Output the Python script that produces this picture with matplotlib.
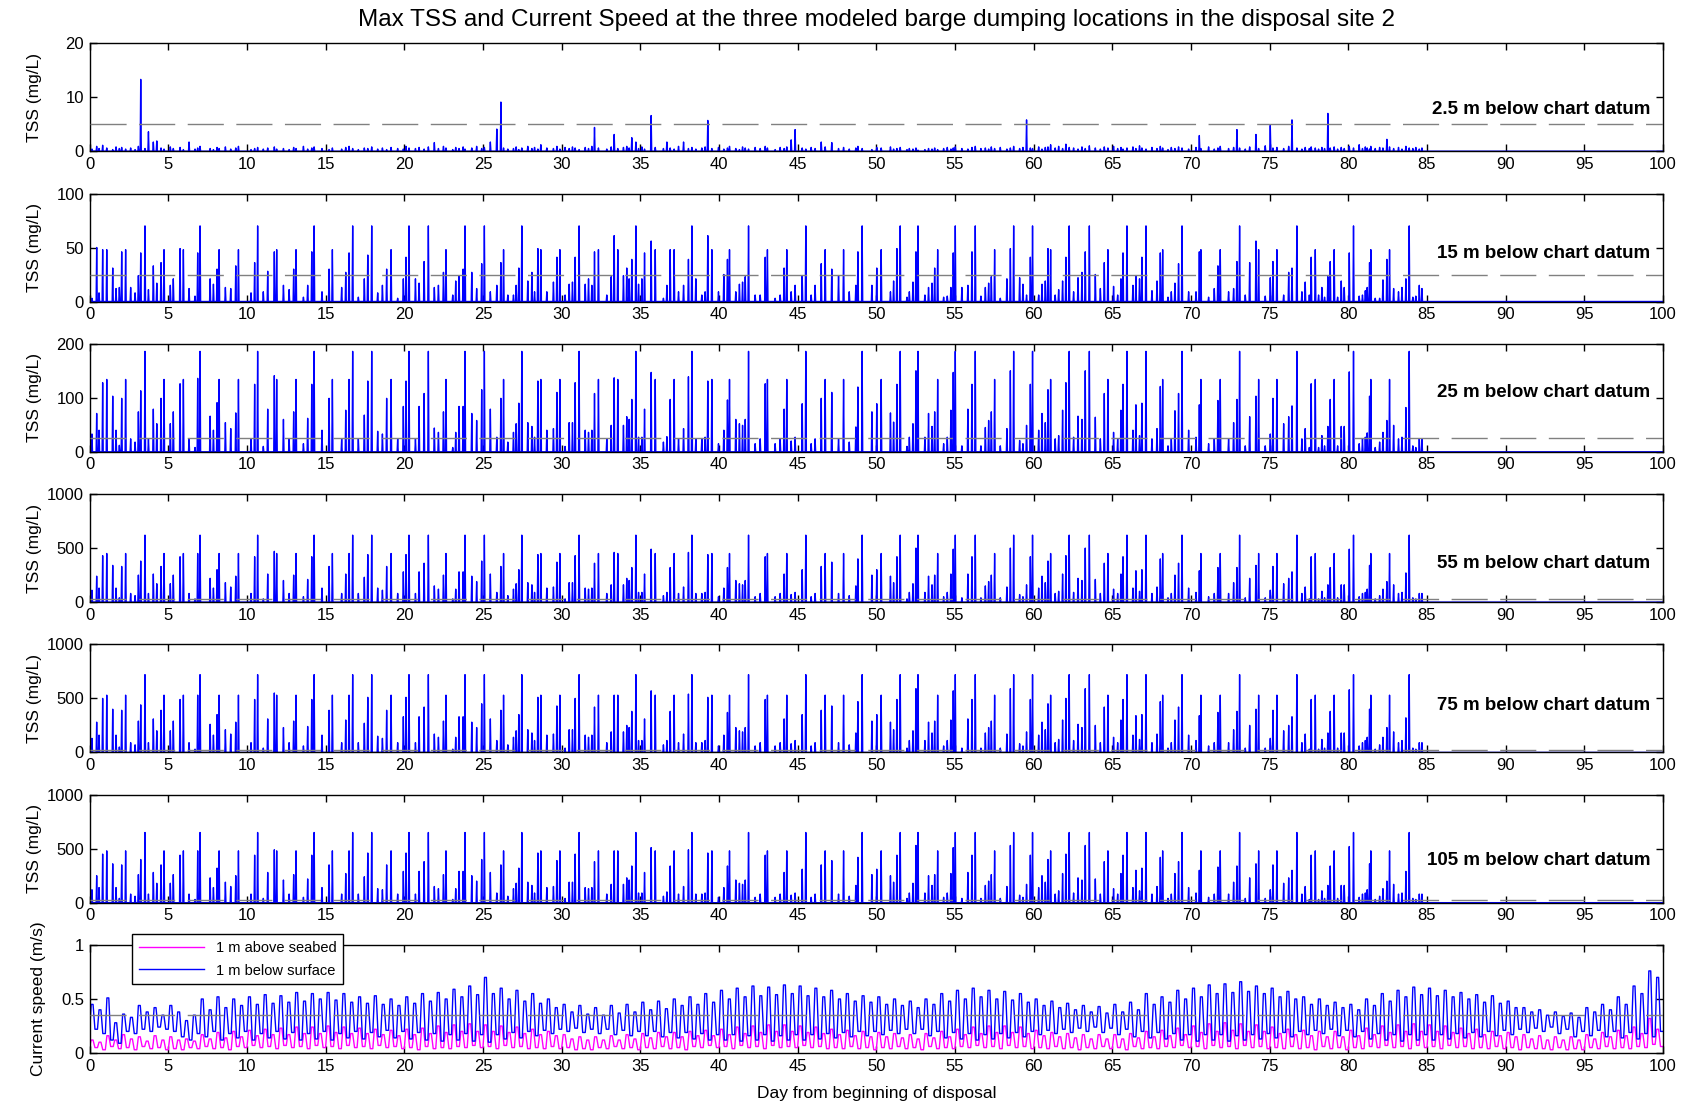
import numpy as np
import matplotlib
matplotlib.use("Agg")
import matplotlib.pyplot as plt

plt.rcParams['font.family'] = ['Liberation Sans', 'DejaVu Sans']

# Times of the modeled barge dumps (days from beginning of disposal)
dump_days = [
    0.15, 0.45, 0.60, 0.83, 1.09, 1.47, 1.68, 1.89, 2.04, 2.29,
    2.61, 2.89, 3.10, 3.25, 3.52, 3.74, 4.05, 4.27, 4.54, 4.73,
    5.13, 5.32, 5.75, 5.96, 6.32, 6.70, 6.87, 7.02, 7.66, 7.87,
    8.10, 8.23, 8.63, 8.97, 9.29, 9.46, 10.26, 10.49, 10.68, 11.04,
    11.32, 11.74, 11.89, 12.32, 12.68, 12.97, 13.12, 13.59, 13.86, 14.12,
    14.27, 14.77, 15.22, 15.43, 16.02, 16.28, 16.49, 16.72, 17.08, 17.46,
    17.68, 17.93, 18.31, 18.61, 18.88, 19.16, 19.58, 19.94, 20.11, 20.30,
    20.71, 20.94, 21.26, 21.53, 21.91, 22.17, 22.49, 22.65, 23.08, 23.27,
    23.48, 23.74, 23.86, 24.29, 24.60, 24.92, 25.09, 25.47, 25.88, 26.14,
    26.31, 26.58, 26.94, 27.11, 27.28, 27.47, 27.85, 28.11, 28.28, 28.49,
    28.68, 29.06, 29.48, 29.70, 29.89, 30.22, 30.48, 30.69, 30.86, 31.11,
    31.50, 31.71, 31.92, 32.09, 32.34, 32.87, 33.15, 33.34, 33.57, 33.93,
    34.14, 34.29, 34.46, 34.72, 34.89, 35.10, 35.27, 35.69, 35.95, 36.47,
    36.69, 36.90, 37.15, 37.43, 37.75, 38.06, 38.28, 38.53, 38.91, 39.12,
    39.29, 39.55, 39.97, 40.31, 40.54, 40.67, 41.07, 41.30, 41.50, 41.67,
    41.88, 42.30, 42.62, 42.94, 43.08, 43.57, 43.89, 44.14, 44.31, 44.59,
    44.84, 45.29, 45.52, 45.86, 46.11, 46.50, 46.75, 47.17, 47.60, 47.92,
    48.28, 48.70, 48.83, 49.10, 49.72, 50.03, 50.31, 50.90, 51.10, 51.31,
    51.52, 51.95, 52.10, 52.33, 52.52, 52.65, 53.09, 53.32, 53.54, 53.71,
    53.90, 54.28, 54.51, 54.74, 54.89, 55.02, 55.44, 55.82, 56.08, 56.29,
    56.65, 56.93, 57.14, 57.31, 57.52, 57.88, 58.30, 58.52, 58.73, 59.11,
    59.32, 59.55, 59.79, 59.93, 60.32, 60.53, 60.74, 60.91, 61.08, 61.37,
    61.59, 61.84, 62.05, 62.26, 62.54, 62.82, 63.07, 63.28, 63.54, 63.92,
    64.24, 64.49, 64.72, 65.08, 65.34, 65.55, 65.68, 65.93, 66.31, 66.50,
    66.73, 66.88, 67.14, 67.52, 67.84, 68.05, 68.20, 68.54, 68.75, 68.98,
    69.21, 69.43, 69.85, 70.32, 70.53, 70.63, 71.12, 71.48, 71.71, 71.86,
    72.39, 72.71, 72.92, 73.09, 73.45, 73.73, 74.13, 74.30, 74.72, 75.04,
    75.21, 75.46, 75.89, 76.21, 76.42, 76.73, 77.05, 77.26, 77.52, 77.64,
    77.90, 78.11, 78.32, 78.49, 78.70, 78.85, 79.10, 79.32, 79.55, 79.74,
    80.06, 80.33, 80.69, 80.90, 81.08, 81.20, 81.35, 81.43, 81.71, 81.99,
    82.20, 82.45, 82.62, 82.88, 83.19, 83.41, 83.66, 83.87, 84.10, 84.29,
    84.51, 84.68,
]

# Max TSS (mg/L) after each dump, 2.5 m below chart datum
tss_2p5 = [
    0.4, 0.9, 0.5, 1.1, 0.6, 0.3, 0.8, 0.5, 0.7, 0.4,
    0.6, 0.3, 0.9, 13.3, 0.5, 3.6, 1.7, 1.9, 0.6, 0.4,
    0.8, 0.5, 0.7, 0.3, 1.7, 0.4, 0.6, 0.9, 0.5, 0.3,
    0.7, 0.5, 0.8, 0.4, 0.6, 0.9, 0.3, 0.5, 0.7, 0.4,
    0.6, 0.8, 0.4, 0.5, 0.3, 0.7, 0.5, 0.9, 0.4, 0.6,
    0.8, 0.5, 0.3, 0.6, 0.4, 0.7, 0.9, 0.5, 0.3, 0.6,
    0.5, 0.8, 0.4, 0.6, 0.3, 0.7, 0.5, 0.4, 0.9, 0.6,
    0.5, 0.7, 0.4, 0.8, 1.6, 0.5, 0.9, 0.6, 0.3, 0.7,
    0.5, 0.8, 0.4, 0.6, 0.9, 0.5, 0.7, 1.7, 4.1, 9.1,
    0.6, 0.4, 0.5, 0.8, 0.3, 0.6, 0.9, 0.5, 0.7, 0.4,
    1.2, 0.6, 0.5, 0.9, 0.4, 0.7, 0.5, 0.8, 0.6, 0.3,
    0.7, 0.5, 0.9, 4.4, 0.6, 0.4, 0.8, 3.1, 0.5, 0.7,
    0.9, 0.6, 2.5, 1.7, 0.5, 0.8, 0.4, 6.6, 0.7, 0.5,
    1.7, 0.6, 0.4, 0.9, 1.7, 0.5, 0.7, 0.4, 0.6, 0.8,
    5.7, 0.5, 0.7, 0.4, 0.6, 0.9, 0.5, 0.3, 0.8, 0.6,
    0.4, 0.7, 0.5, 0.9, 0.6, 0.3, 0.7, 0.5, 0.8, 2.1,
    4.0, 0.6, 0.4, 0.7, 0.5, 1.7, 0.8, 1.6, 0.5, 0.7,
    0.4, 0.6, 0.9, 0.5, 0.3, 0.7, 0.6, 0.8, 0.4, 0.5,
    0.7, 0.3, 0.5, 0.4, 0.6, 0.2, 0.3, 0.5, 0.4, 0.6,
    0.3, 0.5, 0.7, 0.4, 0.6, 0.8, 0.5, 0.4, 0.7, 0.9,
    0.5, 0.6, 0.4, 0.8, 0.5, 0.7, 0.4, 0.6, 0.9, 0.5,
    0.7, 5.8, 0.6, 0.5, 0.8, 0.4, 0.7, 0.8, 1.2, 0.6,
    0.9, 0.5, 1.3, 0.7, 0.6, 0.4, 0.8, 0.5, 1.0, 0.6,
    0.4, 0.8, 0.6, 0.9, 0.5, 0.7, 0.4, 0.6, 0.8, 0.5,
    1.0, 0.6, 0.4, 0.7, 0.5, 0.9, 0.6, 0.3, 0.7, 0.5,
    0.8, 0.6, 0.4, 0.7, 2.9, 0.5, 0.8, 0.4, 0.6, 0.9,
    0.5, 0.7, 4.0, 0.6, 0.4, 0.8, 3.1, 0.5, 1.0, 4.8,
    0.6, 0.7, 0.5, 0.9, 5.8, 0.6, 0.4, 0.7, 0.5, 0.8,
    0.6, 0.4, 0.7, 0.5, 7.0, 0.6, 0.8, 0.4, 0.7, 0.5,
    0.9, 0.6, 1.2, 0.5, 0.8, 0.6, 0.4, 0.9, 0.5, 0.7,
    0.6, 2.2, 0.8, 0.5, 0.7, 0.4, 0.9, 0.6, 0.5, 0.7,
    0.4, 0.6,
]

# Max TSS (mg/L), 15 m below chart datum
tss_15 = [
    3, 50, 8, 48, 48, 31, 12, 13, 46, 48,
    13, 8, 24, 45, 70, 11, 33, 17, 36, 48,
    15, 21, 49, 48, 12, 5, 45, 70, 21, 16,
    30, 48, 13, 12, 33, 48, 8, 36, 70, 9,
    28, 46, 48, 15, 11, 30, 48, 4, 15, 46,
    70, 9, 30, 48, 13, 27, 45, 70, 4, 21,
    43, 70, 8, 15, 30, 48, 3, 21, 41, 70,
    21, 17, 37, 70, 13, 15, 27, 48, 6, 19,
    24, 30, 70, 27, 12, 35, 70, 9, 15, 36,
    48, 6, 6, 15, 31, 70, 19, 27, 9, 49,
    48, 9, 18, 41, 48, 6, 16, 18, 41, 70,
    16, 21, 15, 46, 48, 6, 23, 61, 48, 24,
    31, 21, 39, 70, 16, 21, 45, 56, 48, 3,
    15, 48, 48, 9, 15, 39, 70, 21, 6, 9,
    61, 48, 9, 25, 39, 48, 9, 16, 18, 23,
    70, 6, 6, 41, 48, 3, 6, 31, 48, 9,
    15, 24, 70, 6, 15, 35, 48, 30, 24, 48,
    9, 15, 46, 70, 15, 31, 48, 9, 19, 49,
    70, 4, 9, 18, 46, 70, 6, 13, 17, 31,
    48, 4, 5, 13, 45, 70, 13, 15, 46, 70,
    5, 13, 17, 23, 48, 3, 21, 49, 70, 22,
    16, 6, 41, 70, 6, 16, 19, 49, 48, 6,
    11, 19, 41, 70, 9, 22, 27, 46, 70, 25,
    12, 36, 48, 14, 6, 21, 45, 70, 15, 24,
    21, 41, 70, 10, 19, 45, 48, 4, 9, 17,
    35, 70, 9, 9, 46, 48, 4, 12, 33, 48,
    9, 12, 37, 70, 6, 36, 56, 48, 5, 22,
    37, 48, 6, 27, 31, 70, 9, 18, 6, 41,
    48, 6, 13, 4, 23, 37, 48, 4, 19, 13,
    45, 70, 5, 6, 10, 13, 36, 48, 3, 3,
    20, 39, 48, 12, 9, 13, 21, 70, 4, 5,
    15, 12,
]

# Max TSS (mg/L), 25 m below chart datum
tss_25 = [
    33, 71, 40, 128, 134, 103, 40, 12, 99, 134,
    24, 18, 74, 113, 186, 24, 79, 52, 99, 134,
    52, 74, 126, 134, 24, 8, 136, 186, 66, 40,
    91, 134, 54, 43, 72, 134, 24, 125, 186, 10,
    79, 141, 134, 60, 24, 74, 134, 15, 62, 125,
    186, 40, 99, 134, 24, 77, 134, 186, 24, 68,
    131, 186, 38, 33, 99, 134, 24, 84, 131, 186,
    24, 84, 108, 186, 44, 36, 74, 134, 8, 36,
    84, 84, 186, 71, 58, 115, 186, 79, 27, 99,
    134, 18, 36, 52, 90, 186, 54, 47, 27, 131,
    134, 40, 43, 110, 134, 10, 54, 54, 128, 186,
    40, 36, 40, 108, 134, 24, 49, 137, 134, 49,
    65, 60, 97, 186, 27, 27, 79, 147, 134, 18,
    28, 97, 134, 24, 43, 139, 186, 24, 24, 27,
    131, 134, 15, 40, 96, 134, 60, 52, 49, 60,
    186, 15, 24, 126, 134, 15, 24, 79, 134, 20,
    27, 89, 186, 15, 24, 99, 134, 110, 24, 134,
    18, 46, 120, 186, 74, 89, 134, 72, 55, 125,
    186, 10, 27, 52, 150, 186, 27, 71, 47, 74,
    134, 15, 27, 77, 147, 186, 11, 79, 125, 186,
    11, 45, 58, 74, 134, 11, 43, 150, 186, 21,
    15, 49, 125, 186, 40, 71, 54, 115, 134, 24,
    30, 77, 128, 186, 27, 66, 60, 150, 186, 64,
    24, 108, 134, 36, 24, 77, 125, 186, 40, 87,
    30, 90, 186, 24, 43, 121, 134, 11, 24, 76,
    108, 186, 40, 27, 87, 134, 15, 24, 95, 134,
    24, 54, 97, 186, 11, 65, 103, 134, 11, 33,
    99, 134, 52, 65, 85, 186, 24, 43, 8, 126,
    134, 8, 30, 11, 47, 97, 134, 11, 47, 47,
    148, 186, 15, 24, 27, 35, 103, 134, 8, 18,
    36, 58, 134, 49, 24, 27, 82, 186, 11, 8,
    24, 24,
]

# Max TSS (mg/L), 55 m below chart datum
tss_55 = [
    110, 240, 130, 430, 450, 340, 130, 40, 330, 450,
    80, 60, 250, 380, 620, 80, 260, 170, 330, 450,
    170, 250, 420, 450, 80, 30, 450, 620, 220, 130,
    300, 450, 180, 140, 240, 450, 80, 420, 620, 30,
    260, 470, 450, 200, 80, 250, 450, 50, 210, 420,
    620, 130, 330, 450, 80, 260, 450, 620, 80, 230,
    440, 620, 130, 110, 330, 450, 80, 280, 440, 620,
    80, 280, 360, 620, 150, 120, 250, 450, 30, 120,
    280, 280, 620, 240, 190, 380, 620, 260, 90, 330,
    450, 60, 120, 170, 300, 620, 180, 160, 90, 440,
    450, 130, 140, 370, 450, 30, 180, 180, 430, 620,
    130, 120, 130, 360, 450, 80, 160, 460, 450, 160,
    220, 200, 320, 620, 90, 90, 260, 490, 450, 60,
    90, 320, 450, 80, 140, 460, 620, 80, 80, 90,
    440, 450, 50, 130, 320, 450, 200, 170, 160, 200,
    620, 50, 80, 420, 450, 50, 80, 260, 450, 70,
    90, 300, 620, 50, 80, 330, 450, 370, 80, 450,
    60, 150, 400, 620, 250, 300, 450, 240, 180, 420,
    620, 30, 90, 170, 500, 620, 90, 240, 160, 250,
    450, 50, 90, 260, 490, 620, 40, 260, 420, 620,
    40, 150, 190, 250, 450, 40, 140, 500, 620, 70,
    50, 160, 420, 620, 130, 240, 180, 380, 450, 80,
    100, 260, 430, 620, 90, 220, 200, 500, 620, 210,
    80, 360, 450, 120, 80, 260, 420, 620, 130, 290,
    100, 300, 620, 80, 140, 400, 450, 40, 80, 250,
    360, 620, 130, 90, 290, 450, 50, 80, 320, 450,
    80, 180, 320, 620, 40, 220, 340, 450, 40, 110,
    330, 450, 170, 220, 280, 620, 80, 140, 30, 420,
    450, 30, 100, 40, 160, 320, 450, 40, 160, 160,
    490, 620, 50, 80, 90, 120, 340, 450, 30, 60,
    120, 190, 450, 160, 80, 90, 270, 620, 40, 30,
    80, 80,
]

# Max TSS (mg/L), 75 m below chart datum
tss_75 = [
    130, 280, 160, 500, 530, 400, 160, 50, 390, 530,
    90, 70, 290, 440, 720, 90, 310, 200, 390, 530,
    200, 290, 490, 530, 90, 30, 530, 720, 260, 160,
    350, 530, 210, 170, 280, 530, 90, 490, 720, 40,
    310, 550, 530, 230, 90, 290, 530, 60, 240, 490,
    720, 160, 390, 530, 90, 300, 530, 720, 90, 270,
    510, 720, 150, 130, 390, 530, 90, 330, 510, 720,
    90, 330, 420, 720, 170, 140, 290, 530, 30, 140,
    330, 330, 720, 280, 230, 450, 720, 310, 110, 390,
    530, 70, 140, 200, 350, 720, 210, 180, 110, 510,
    530, 160, 170, 430, 530, 40, 210, 210, 500, 720,
    160, 140, 160, 420, 530, 90, 190, 530, 530, 190,
    250, 230, 380, 720, 110, 110, 310, 570, 530, 70,
    110, 380, 530, 90, 170, 540, 720, 90, 90, 110,
    510, 530, 60, 160, 370, 530, 230, 200, 190, 230,
    720, 60, 90, 490, 530, 60, 90, 310, 530, 80,
    110, 350, 720, 60, 90, 390, 530, 430, 90, 530,
    70, 180, 470, 720, 290, 350, 530, 280, 210, 490,
    720, 40, 110, 200, 590, 720, 110, 280, 180, 290,
    530, 60, 110, 300, 570, 720, 40, 310, 490, 720,
    40, 180, 230, 290, 530, 40, 170, 590, 720, 80,
    60, 190, 490, 720, 160, 280, 210, 450, 530, 90,
    120, 300, 500, 720, 110, 260, 230, 590, 720, 250,
    90, 420, 530, 140, 90, 300, 490, 720, 160, 340,
    120, 350, 720, 90, 170, 470, 530, 40, 90, 300,
    420, 720, 160, 110, 340, 530, 60, 90, 370, 530,
    90, 210, 380, 720, 40, 250, 400, 530, 40, 130,
    390, 530, 200, 250, 330, 720, 90, 170, 30, 490,
    530, 30, 120, 40, 180, 380, 530, 40, 180, 180,
    580, 720, 60, 90, 110, 140, 400, 530, 30, 70,
    140, 230, 530, 190, 90, 110, 320, 720, 40, 30,
    90, 90,
]

# Max TSS (mg/L), 105 m below chart datum
tss_105 = [
    120, 250, 140, 450, 480, 360, 140, 40, 350, 480,
    80, 60, 260, 400, 650, 80, 280, 180, 350, 480,
    180, 260, 440, 480, 80, 30, 480, 650, 230, 140,
    320, 480, 190, 150, 250, 480, 80, 440, 650, 40,
    280, 490, 480, 210, 80, 260, 480, 50, 220, 440,
    650, 140, 350, 480, 80, 270, 480, 650, 80, 240,
    460, 650, 130, 120, 350, 480, 80, 290, 460, 650,
    80, 290, 380, 650, 150, 130, 260, 480, 30, 130,
    290, 290, 650, 250, 200, 400, 650, 280, 90, 350,
    480, 60, 130, 180, 320, 650, 190, 160, 90, 460,
    480, 140, 150, 390, 480, 40, 190, 190, 450, 650,
    140, 130, 140, 380, 480, 80, 170, 480, 480, 170,
    230, 210, 340, 650, 90, 90, 280, 510, 480, 60,
    100, 340, 480, 80, 150, 490, 650, 80, 80, 90,
    460, 480, 50, 140, 340, 480, 210, 180, 170, 210,
    650, 50, 80, 440, 480, 50, 80, 280, 480, 70,
    90, 310, 650, 50, 80, 350, 480, 390, 80, 480,
    60, 160, 420, 650, 260, 310, 480, 250, 190, 440,
    650, 40, 90, 180, 530, 650, 90, 250, 160, 260,
    480, 50, 90, 270, 510, 650, 40, 280, 440, 650,
    40, 160, 200, 260, 480, 40, 150, 530, 650, 70,
    50, 170, 440, 650, 140, 250, 190, 400, 480, 80,
    110, 270, 450, 650, 90, 230, 210, 530, 650, 220,
    80, 380, 480, 130, 80, 270, 440, 650, 140, 300,
    110, 320, 650, 80, 150, 420, 480, 40, 80, 270,
    380, 650, 140, 90, 300, 480, 50, 80, 330, 480,
    80, 190, 340, 650, 40, 230, 360, 480, 40, 120,
    350, 480, 180, 230, 300, 650, 80, 150, 30, 440,
    480, 30, 110, 40, 160, 340, 480, 40, 160, 160,
    520, 650, 50, 80, 90, 120, 360, 480, 30, 60,
    130, 200, 480, 170, 80, 90, 290, 650, 40, 30,
    80, 80,
]

# Current speed (m/s): peak and slack of each half-day tidal cycle
surf_hi = [
    0.45, 0.40, 0.51, 0.28, 0.36, 0.33, 0.44, 0.38, 0.42, 0.35,
    0.44, 0.38, 0.30, 0.35, 0.50, 0.40, 0.52, 0.42, 0.50, 0.44,
    0.52, 0.45, 0.54, 0.46, 0.53, 0.47, 0.56, 0.48, 0.55, 0.50,
    0.56, 0.49, 0.55, 0.47, 0.52, 0.46, 0.53, 0.45, 0.50, 0.44,
    0.52, 0.46, 0.55, 0.48, 0.56, 0.50, 0.59, 0.52, 0.62, 0.54,
    0.70, 0.55, 0.60, 0.50, 0.58, 0.48, 0.55, 0.46, 0.50, 0.42,
    0.45, 0.38, 0.44, 0.36, 0.42, 0.35, 0.44, 0.37, 0.45, 0.38,
    0.47, 0.40, 0.48, 0.41, 0.50, 0.44, 0.52, 0.45, 0.55, 0.47,
    0.58, 0.50, 0.60, 0.52, 0.62, 0.53, 0.61, 0.54, 0.63, 0.55,
    0.62, 0.53, 0.60, 0.52, 0.58, 0.50, 0.55, 0.48, 0.53, 0.47,
    0.52, 0.45, 0.50, 0.44, 0.48, 0.42, 0.50, 0.45, 0.55, 0.48,
    0.58, 0.50, 0.60, 0.52, 0.58, 0.50, 0.57, 0.49, 0.55, 0.47,
    0.50, 0.44, 0.48, 0.42, 0.46, 0.40, 0.44, 0.38, 0.43, 0.37,
    0.45, 0.38, 0.47, 0.40, 0.55, 0.45, 0.52, 0.47, 0.58, 0.50,
    0.60, 0.52, 0.63, 0.55, 0.64, 0.56, 0.66, 0.57, 0.62, 0.55,
    0.60, 0.52, 0.57, 0.50, 0.52, 0.45, 0.50, 0.44, 0.47, 0.42,
    0.45, 0.40, 0.50, 0.44, 0.55, 0.48, 0.58, 0.52, 0.61, 0.54,
    0.60, 0.53, 0.58, 0.52, 0.56, 0.50, 0.54, 0.47, 0.53, 0.46,
    0.48, 0.42, 0.42, 0.38, 0.40, 0.35, 0.38, 0.34, 0.37, 0.33,
    0.42, 0.38, 0.45, 0.40, 0.52, 0.45, 0.62, 0.55, 0.76, 0.70,
]
surf_lo = [
    0.22, 0.18, 0.12, 0.09, 0.20, 0.18, 0.22, 0.20, 0.24, 0.22,
    0.20, 0.15, 0.12, 0.18, 0.15, 0.20, 0.12, 0.18, 0.14, 0.20,
    0.12, 0.18, 0.14, 0.20, 0.13, 0.19, 0.12, 0.18, 0.13, 0.20,
    0.12, 0.18, 0.14, 0.20, 0.13, 0.19, 0.15, 0.21, 0.14, 0.20,
    0.13, 0.19, 0.12, 0.18, 0.11, 0.17, 0.12, 0.18, 0.11, 0.17,
    0.10, 0.17, 0.13, 0.19, 0.14, 0.20, 0.16, 0.21, 0.18, 0.22,
    0.20, 0.23, 0.19, 0.22, 0.18, 0.22, 0.17, 0.21, 0.16, 0.20,
    0.16, 0.20, 0.15, 0.19, 0.14, 0.19, 0.13, 0.18, 0.12, 0.17,
    0.12, 0.17, 0.11, 0.16, 0.12, 0.17, 0.11, 0.16, 0.12, 0.17,
    0.12, 0.17, 0.13, 0.18, 0.14, 0.19, 0.15, 0.20, 0.16, 0.20,
    0.17, 0.21, 0.18, 0.22, 0.18, 0.22, 0.16, 0.20, 0.14, 0.19,
    0.13, 0.18, 0.12, 0.17, 0.13, 0.18, 0.14, 0.19, 0.15, 0.20,
    0.17, 0.21, 0.18, 0.22, 0.19, 0.23, 0.20, 0.24, 0.19, 0.23,
    0.17, 0.22, 0.15, 0.20, 0.14, 0.19, 0.13, 0.18, 0.12, 0.17,
    0.11, 0.17, 0.12, 0.17, 0.11, 0.16, 0.12, 0.17, 0.13, 0.18,
    0.14, 0.19, 0.15, 0.20, 0.17, 0.21, 0.18, 0.22, 0.16, 0.21,
    0.15, 0.20, 0.13, 0.18, 0.12, 0.17, 0.11, 0.17, 0.12, 0.17,
    0.12, 0.17, 0.13, 0.18, 0.14, 0.19, 0.15, 0.20, 0.16, 0.21,
    0.17, 0.22, 0.19, 0.23, 0.20, 0.24, 0.18, 0.22, 0.15, 0.20,
    0.16, 0.21, 0.15, 0.20, 0.14, 0.19, 0.13, 0.18, 0.15, 0.20,
]
bed_hi = [
    0.12, 0.10, 0.16, 0.12, 0.17, 0.13, 0.15, 0.11, 0.16, 0.12,
    0.15, 0.12, 0.13, 0.11, 0.17, 0.13, 0.19, 0.14, 0.20, 0.15,
    0.21, 0.16, 0.22, 0.17, 0.23, 0.17, 0.24, 0.18, 0.24, 0.18,
    0.25, 0.19, 0.24, 0.18, 0.23, 0.18, 0.22, 0.17, 0.21, 0.16,
    0.22, 0.17, 0.23, 0.18, 0.25, 0.19, 0.26, 0.20, 0.27, 0.20,
    0.26, 0.20, 0.25, 0.19, 0.24, 0.18, 0.22, 0.17, 0.20, 0.16,
    0.17, 0.13, 0.15, 0.12, 0.15, 0.12, 0.16, 0.12, 0.17, 0.13,
    0.18, 0.14, 0.19, 0.15, 0.19, 0.15, 0.20, 0.16, 0.21, 0.16,
    0.22, 0.17, 0.24, 0.18, 0.25, 0.19, 0.26, 0.20, 0.26, 0.20,
    0.25, 0.19, 0.24, 0.18, 0.22, 0.17, 0.21, 0.16, 0.20, 0.15,
    0.19, 0.15, 0.18, 0.14, 0.17, 0.13, 0.18, 0.14, 0.20, 0.15,
    0.22, 0.17, 0.24, 0.18, 0.25, 0.19, 0.25, 0.19, 0.24, 0.18,
    0.21, 0.16, 0.19, 0.15, 0.18, 0.14, 0.17, 0.13, 0.17, 0.13,
    0.17, 0.13, 0.18, 0.14, 0.20, 0.15, 0.21, 0.16, 0.23, 0.17,
    0.25, 0.19, 0.27, 0.20, 0.28, 0.21, 0.27, 0.20, 0.26, 0.20,
    0.24, 0.18, 0.22, 0.17, 0.21, 0.16, 0.20, 0.15, 0.20, 0.15,
    0.21, 0.16, 0.23, 0.17, 0.25, 0.19, 0.26, 0.20, 0.27, 0.20,
    0.26, 0.20, 0.25, 0.19, 0.23, 0.18, 0.22, 0.17, 0.20, 0.16,
    0.19, 0.15, 0.17, 0.13, 0.16, 0.12, 0.15, 0.12, 0.15, 0.12,
    0.17, 0.13, 0.19, 0.15, 0.21, 0.16, 0.24, 0.18, 0.32, 0.22,
]
bed_lo = [
    0.05, 0.03, 0.06, 0.04, 0.05, 0.03, 0.06, 0.04, 0.05, 0.03,
    0.04, 0.03, 0.05, 0.04, 0.06, 0.04, 0.05, 0.03, 0.06, 0.05,
    0.07, 0.05, 0.06, 0.04, 0.07, 0.05, 0.06, 0.04, 0.07, 0.05,
    0.06, 0.04, 0.07, 0.05, 0.06, 0.04, 0.07, 0.05, 0.06, 0.04,
    0.05, 0.03, 0.06, 0.04, 0.05, 0.04, 0.06, 0.05, 0.07, 0.05,
    0.06, 0.04, 0.07, 0.05, 0.06, 0.04, 0.05, 0.04, 0.06, 0.04,
    0.05, 0.03, 0.04, 0.03, 0.05, 0.04, 0.06, 0.04, 0.05, 0.03,
    0.05, 0.04, 0.06, 0.04, 0.05, 0.03, 0.06, 0.05, 0.07, 0.05,
    0.06, 0.04, 0.07, 0.05, 0.06, 0.04, 0.07, 0.05, 0.06, 0.05,
    0.07, 0.05, 0.06, 0.04, 0.05, 0.04, 0.06, 0.04, 0.05, 0.03,
    0.05, 0.04, 0.06, 0.04, 0.05, 0.03, 0.06, 0.04, 0.05, 0.04,
    0.06, 0.05, 0.07, 0.05, 0.06, 0.04, 0.07, 0.05, 0.06, 0.04,
    0.05, 0.04, 0.06, 0.04, 0.05, 0.03, 0.05, 0.04, 0.06, 0.04,
    0.05, 0.03, 0.06, 0.04, 0.05, 0.04, 0.06, 0.05, 0.07, 0.05,
    0.06, 0.04, 0.07, 0.05, 0.06, 0.04, 0.07, 0.05, 0.06, 0.04,
    0.05, 0.04, 0.06, 0.04, 0.05, 0.03, 0.06, 0.04, 0.05, 0.03,
    0.05, 0.04, 0.06, 0.05, 0.07, 0.05, 0.06, 0.04, 0.07, 0.05,
    0.06, 0.04, 0.07, 0.05, 0.06, 0.04, 0.05, 0.04, 0.06, 0.04,
    0.05, 0.03, 0.05, 0.04, 0.04, 0.03, 0.05, 0.03, 0.04, 0.03,
    0.05, 0.04, 0.06, 0.04, 0.05, 0.04, 0.06, 0.05, 0.08, 0.06,
]

depth_labels = ["2.5 m below chart datum", "15 m below chart datum",
                "25 m below chart datum", "55 m below chart datum",
                "75 m below chart datum", "105 m below chart datum"]
tss_series = [tss_2p5, tss_15, tss_25, tss_55, tss_75, tss_105]
tss_ylims = [20, 100, 200, 1000, 1000, 1000]
tss_yticks = [[0, 10, 20], [0, 50, 100], [0, 100, 200],
              [0, 500, 1000], [0, 500, 1000], [0, 500, 1000]]
tss_thresholds = [5, 25, 25, 25, 25, 25]
label_ypos = [0.39, 0.44, 0.55, 0.36, 0.43, 0.39]
speed_threshold = 0.35
speed_yticks = [0, 0.5, 1]
speed_yticklabels = ['0', '0.5', '1']
x_ticks = list(range(0, 101, 5))

BLUE = '#0000ff'
MAGENTA = '#ff00ff'
GREY = '#808080'


def spike_series(days, heights, half_width=0.035, end=100.0):
    xs, ys = [0.0], [0.0]
    for d, h in zip(days, heights):
        xs += [d - half_width, d, d + half_width]
        ys += [0.0, h, 0.0]
    xs.append(end)
    ys.append(0.0)
    return xs, ys


def tidal_series(hi, lo):
    xs, ys = [0.0], [lo[-1]]
    for i, (h, l) in enumerate(zip(hi, lo)):
        t0 = 0.5 * i
        xs += [t0 + 0.10, t0 + 0.22, t0 + 0.34, t0 + 0.50]
        ys += [h, h, l, l]
    return xs, ys


def style_axis(ax, ylim, yticks):
    ax.set_xlim(0, 100)
    ax.set_ylim(0, ylim)
    ax.set_xticks(x_ticks)
    ax.set_yticks(yticks)
    ax.tick_params(direction='in', top=True, right=True, length=5,
                   width=1, labelsize=12, pad=4)
    for sp in ax.spines.values():
        sp.set_linewidth(1.0)


W, H = 1692, 1106
fig = plt.figure(figsize=(W / 100, H / 100), dpi=100)
left_px, right_px = 89.6, 1663.0
panel_h = 108.0
tops = [43.2 + 150.3 * k for k in range(7)]

axes = []
for top in tops:
    rect = [left_px / W, 1 - (top + panel_h) / H,
            (right_px - left_px) / W, panel_h / H]
    axes.append(fig.add_axes(rect))

dash = (0, (26, 9))
for ax, vals, ylim, yt, thr, lab, ly in zip(axes[:6], tss_series, tss_ylims,
                                            tss_yticks, tss_thresholds,
                                            depth_labels, label_ypos):
    xs, ys = spike_series(dump_days, vals)
    ax.plot(xs, ys, color=BLUE, lw=1.0, zorder=2)
    ax.axhline(thr, color=GREY, lw=1.0, linestyle=dash, zorder=3)
    style_axis(ax, ylim, yt)
    ax.set_ylabel('TSS (mg/L)', fontsize=12.5)
    ax.yaxis.set_label_coords(-0.030, 0.5)
    ax.text(0.992, ly, lab, transform=ax.transAxes, ha='right', va='center',
            fontsize=13.5, fontweight='bold', zorder=4)

ax7 = axes[6]
xb, yb = tidal_series(bed_hi, bed_lo)
xs, ys = tidal_series(surf_hi, surf_lo)
l_bed, = ax7.plot(xb, yb, color=MAGENTA, lw=1.0, zorder=2)
l_surf, = ax7.plot(xs, ys, color=BLUE, lw=1.0, zorder=2)
ax7.axhline(speed_threshold, color=GREY, lw=1.0, linestyle=dash, zorder=3)
style_axis(ax7, 1, speed_yticks)
ax7.set_yticklabels(speed_yticklabels)
ax7.set_ylabel('Current speed (m/s)', fontsize=12.5)
ax7.yaxis.set_label_coords(-0.0275, 0.5)
ax7.set_xlabel('Day from beginning of disposal', fontsize=12.5, labelpad=9)
leg = ax7.legend([l_bed, l_surf], ['1 m above seabed', '1 m below surface'],
                 loc='upper left', bbox_to_anchor=(0.027, 1.10),
                 frameon=True, fancybox=False, edgecolor='black',
                 framealpha=1, fontsize=10.5, handlelength=4.5,
                 borderpad=0.45, labelspacing=0.6, borderaxespad=0)
leg.get_frame().set_linewidth(1.0)
leg.set_zorder(5)

fig.text((left_px + right_px) / 2 / W, 1 - 20 / H,
         'Max TSS and Current Speed at the three modeled barge dumping '
         'locations in the disposal site 2',
         ha='center', va='center', fontsize=17.5)

fig.savefig('out.png', dpi=100)
